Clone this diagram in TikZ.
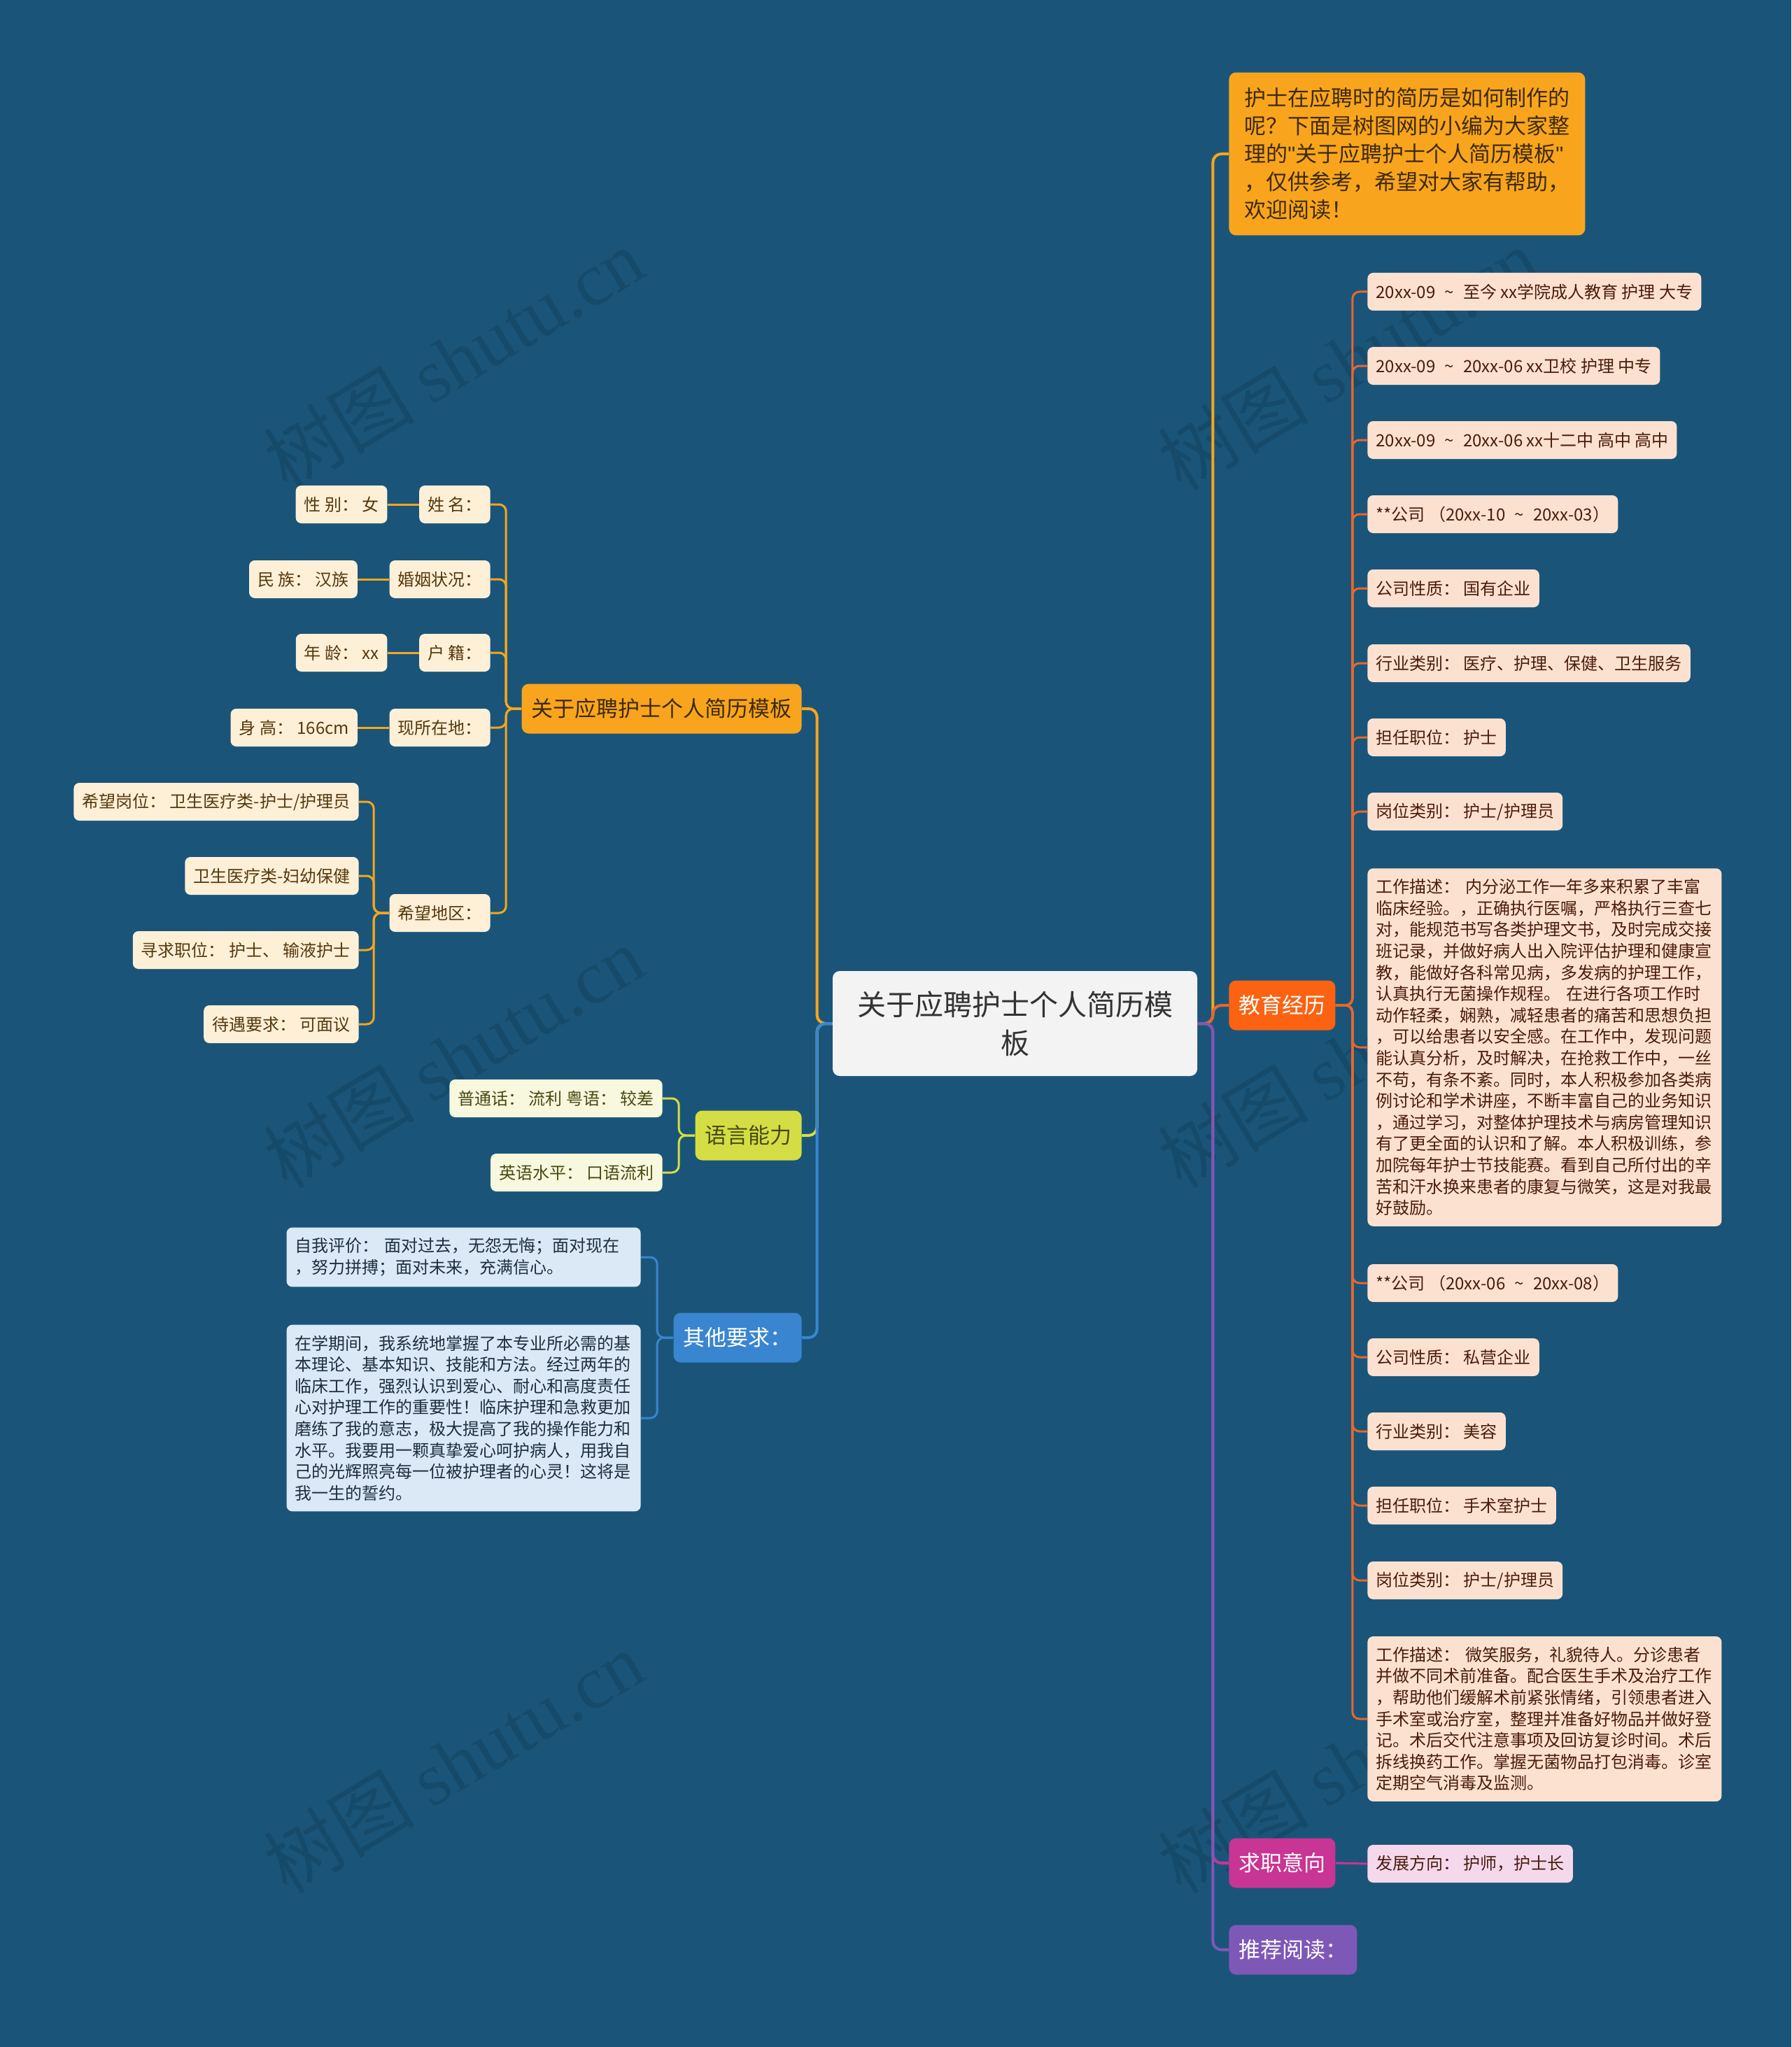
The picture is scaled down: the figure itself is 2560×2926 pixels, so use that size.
\documentclass[tikz,border=0pt]{standalone}
\usepackage{fontspec}
\setmainfont{Noto Sans CJK SC}
\newfontfamily\wmfont{Liberation Serif}
\newfontfamily\latinfont{Liberation Sans}
\usetikzlibrary{positioning}

\definecolor{bgblue}{HTML}{1A5579}
\definecolor{amber}{HTML}{F8A51D}
\definecolor{amberink}{HTML}{3E2A0C}
\definecolor{tangerine}{HTML}{FB6312}
\definecolor{edulink}{HTML}{E8672A}
\definecolor{peach}{HTML}{FDE1D0}
\definecolor{peachink}{HTML}{4A1C0C}
\definecolor{rose}{HTML}{C93594}
\definecolor{rosepale}{HTML}{F5D8EC}
\definecolor{violet}{HTML}{7E58B6}
\definecolor{lime}{HTML}{D4DE44}
\definecolor{limepale}{HTML}{F7F8DD}
\definecolor{limeink}{HTML}{484A12}
\definecolor{azure}{HTML}{3A85CF}
\definecolor{azurepale}{HTML}{DBE9F6}
\definecolor{azureink}{HTML}{1E2E3E}
\definecolor{cream}{HTML}{FEF0D7}
\definecolor{creamink}{HTML}{55380E}
\definecolor{rootgray}{HTML}{F3F3F3}

% tilde with the wide gaps of the reference
\newcommand\tld{\hspace{0.55em}\textasciitilde\hspace{0.55em}}
\newcommand\dq{{\latinfont\char"22}}

\tikzset{
  root/.style={rounded corners=5pt, fill=rootgray, text=black!80, align=center,
    minimum height=75pt, inner xsep=17.5pt, font=\fontsize{20.5}{27.5}\selectfont},
  topic/.style={rounded corners=5pt, minimum height=35.5pt, inner xsep=7pt,
    font=\fontsize{15.5}{20}\selectfont},
  leaf/.style={rounded corners=4pt, minimum height=27pt, inner xsep=6pt,
    font=\fontsize{12}{15.3}\selectfont},
  memo/.style={leaf, align=left, inner ysep=7.5pt, text width=241pt},
  link/.style={line width=1.5pt, rounded corners=5pt},
  trunk/.style={line width=2pt, rounded corners=6pt},
  watermark/.style={rotate=31, text=black, opacity=0.12,
    font=\fontsize{54}{54}\selectfont},
}

\begin{document}
\begin{tikzpicture}[x=0.5pt, y=-0.5pt]
    % Background
    \fill[bgblue] (0,0) rectangle (2560,2926);
    \useasboundingbox (0,0) rectangle (2560,2926);

    % Watermarks
    \foreach \wx/\wy in {648/513, 1926/513, 648/1511, 1926/1511, 648/2519, 1926/2519}
        \node[watermark] (wm-\wx-\wy) at (\wx,\wy) {树图 {\wmfont shutu.cn}};

    % Central topic
    \node[root] (root) at (1450.5,1463) {关于应聘护士个人简历模\\板};

    % Right side topics
    \node[topic, fill=amber, text=amberink, align=left, inner xsep=11pt, inner ysep=11pt, anchor=west]
        (intro) at (1756,220) {护士在应聘时的简历是如何制作的\\呢？下面是树图网的小编为大家整\\理的\dq 关于应聘护士个人简历模板\dq\\，仅供参考，希望对大家有帮助，\\欢迎阅读！};
    \node[topic, fill=tangerine, text=white, anchor=west] (edu) at (1756,1437) {教育经历};
    \node[topic, fill=rose, text=white, anchor=west] (job) at (1756,2663) {求职意向};
    \node[topic, fill=violet, text=white, anchor=west] (read) at (1756,2787) {推荐阅读：};

    % Education and work entries
    \begin{scope}[every node/.append style={fill=peach, text=peachink, anchor=west}]
        \node[leaf] (e1) at (1954,417) {20xx-09\tld 至今 xx学院成人教育 护理 大专};
        \node[leaf] (e2) at (1954,523) {20xx-09\tld 20xx-06 xx卫校 护理 中专};
        \node[leaf] (e3) at (1954,629) {20xx-09\tld 20xx-06 xx十二中 高中 高中};
        \node[leaf] (e4) at (1954,735) {**公司 （20xx-10\tld 20xx-03）};
        \node[leaf] (e5) at (1954,841) {公司性质： 国有企业};
        \node[leaf] (e6) at (1954,948) {行业类别： 医疗、护理、保健、卫生服务};
        \node[leaf] (e7) at (1954,1054) {担任职位： 护士};
        \node[leaf] (e8) at (1954,1160) {岗位类别： 护士/护理员};
        \node[memo] (e9) at (1954,1497) {工作描述： 内分泌工作一年多来积累了丰富\\临床经验。，正确执行医嘱，严格执行三查七\\对，能规范书写各类护理文书，及时完成交接\\班记录，并做好病人出入院评估护理和健康宣\\教，能做好各科常见病，多发病的护理工作，\\认真执行无菌操作规程。 在进行各项工作时\\动作轻柔，娴熟，减轻患者的痛苦和思想负担\\，可以给患者以安全感。在工作中，发现问题\\能认真分析，及时解决，在抢救工作中，一丝\\不苟，有条不紊。同时，本人积极参加各类病\\例讨论和学术讲座，不断丰富自己的业务知识\\，通过学习，对整体护理技术与病房管理知识\\有了更全面的认识和了解。本人积极训练，参\\加院每年护士节技能赛。看到自己所付出的辛\\苦和汗水换来患者的康复与微笑，这是对我最\\好鼓励。};
        \node[leaf] (e10) at (1954,1834) {**公司 （20xx-06\tld 20xx-08）};
        \node[leaf] (e11) at (1954,1940) {公司性质： 私营企业};
        \node[leaf] (e12) at (1954,2046) {行业类别： 美容};
        \node[leaf] (e13) at (1954,2152) {担任职位： 手术室护士};
        \node[leaf] (e14) at (1954,2259) {岗位类别： 护士/护理员};
        \node[memo] (e15) at (1954,2457) {工作描述： 微笑服务，礼貌待人。分诊患者\\并做不同术前准备。配合医生手术及治疗工作\\，帮助他们缓解术前紧张情绪，引领患者进入\\手术室或治疗室，整理并准备好物品并做好登\\记。术后交代注意事项及回访复诊时间。术后\\拆线换药工作。掌握无菌物品打包消毒。诊室\\定期空气消毒及监测。};
    \end{scope}

    % Job intention
    \node[leaf, fill=rosepale, text=peachink, anchor=west] (j1) at (1954,2664) {发展方向： 护师，护士长};

    % Left side topics
    \node[topic, fill=amber, text=amberink, anchor=east] (tpl) at (1146,1013) {关于应聘护士个人简历模板};
    \node[topic, fill=lime, text=limeink, anchor=east] (lang) at (1146,1623) {语言能力};
    \node[topic, fill=azure, text=white, anchor=east] (other) at (1146,1912) {其他要求：};

    % Personal data
    \begin{scope}[every node/.append style={fill=cream, text=creamink, anchor=east}]
        \node[leaf] (t1) at (701,721) {姓 名：};
        \node[leaf] (t2) at (701,828) {婚姻状况：};
        \node[leaf] (t3) at (701,933) {户 籍：};
        \node[leaf] (t4) at (701,1040) {现所在地：};
        \node[leaf] (t5) at (701,1305) {希望地区：};
        \node[leaf, left=22.5pt of t1.west] (p1) {性 别： 女};
        \node[leaf, left=22.5pt of t2.west] (p2) {民 族： 汉族};
        \node[leaf, left=22.5pt of t3.west] (p3) {年 龄： xx};
        \node[leaf, left=22.5pt of t4.west] (p4) {身 高： 166cm};
        \node[leaf] (w1) at (513,1146) {希望岗位： 卫生医疗类-护士/护理员};
        \node[leaf] (w2) at (513,1252) {卫生医疗类-妇幼保健};
        \node[leaf] (w3) at (513,1358) {寻求职位： 护士、 输液护士};
        \node[leaf] (w4) at (513,1464) {待遇要求： 可面议};
    \end{scope}

    % Languages
    \node[leaf, fill=limepale, text=limeink, anchor=east] (l1) at (947,1570) {普通话： 流利 粤语： 较差};
    \node[leaf, fill=limepale, text=limeink, anchor=east] (l2) at (947,1676) {英语水平： 口语流利};

    % Other requirements
    \node[memo, fill=azurepale, text=azureink, anchor=east] (o1) at (916,1797) {自我评价： 面对过去，无怨无悔；面对现在\\，努力拼搏；面对未来，充满信心。};
    \node[memo, fill=azurepale, text=azureink, anchor=east] (o2) at (916,2027) {在学期间，我系统地掌握了本专业所必需的基\\本理论、基本知识、技能和方法。经过两年的\\临床工作，强烈认识到爱心、耐心和高度责任\\心对护理工作的重要性！临床护理和急救更加\\磨练了我的意志，极大提高了我的操作能力和\\水平。我要用一颗真挚爱心呵护病人，用我自\\己的光辉照亮每一位被护理者的心灵！这将是\\我一生的誓约。};

    % Links from the central topic
    \draw[trunk, amber] (root.east) -- ++(22,0) |- (intro.west);
    \draw[trunk, edulink] (root.east) -- ++(22,0) |- (edu.west);
    \draw[trunk, rose] (root.east) -- ++(22,0) |- (job.west);
    \draw[trunk, violet] (root.east) -- ++(22,0) |- (read.west);
    \draw[trunk, amber] (root.west) -- ++(-22,0) |- (tpl.east);
    \draw[trunk, lime] (root.west) -- ++(-22,0) |- (lang.east);
    \draw[trunk, azure] (root.west) -- ++(-22,0) |- (other.east);

    % Links to the leaves
    \foreach \i in {1,...,15}
        \draw[link, edulink] (edu.east) -- ++(24,0) |- (e\i.west);
    \draw[link, rose] (job.east) -- (j1.west);
    \foreach \i in {1,...,5}
        \draw[link, amber] (tpl.west) -- ++(-22,0) |- (t\i.east);
    \foreach \i in {1,...,4} {
        \draw[link, amber] (t\i.west) -- (p\i.east);
        \draw[link, amber] (t5.west) -- ++(-22,0) |- (w\i.east);
    }
    \foreach \i in {1,2} {
        \draw[link, lime] (lang.west) -- ++(-23,0) |- (l\i.east);
        \draw[link, azure] (other.west) -- ++(-23,0) |- (o\i.east);
    }
\end{tikzpicture}
\end{document}
